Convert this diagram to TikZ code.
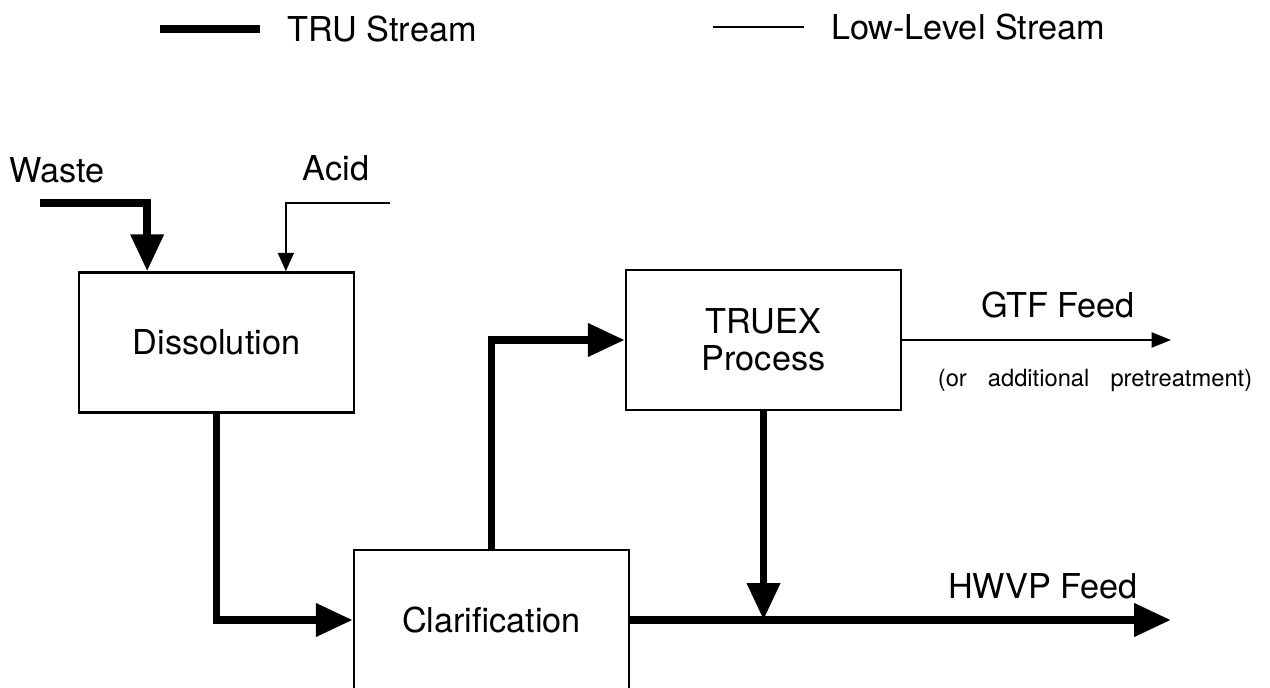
\documentclass[tikz,border=0pt]{standalone}
\usepackage{fontspec}
\setmainfont{TeX Gyre Heros}
\usetikzlibrary{arrows.meta,calc}

\begin{document}
\begin{tikzpicture}[x=0.02cm,y=-0.02cm,font=\fontsize{19.5}{21}\selectfont,
    unit/.style={draw,line width=1.4pt,minimum width=5.5cm,minimum height=2.8cm,align=center},
    tru/.style={line width=4.5pt,-{Triangle[width=18pt,length=21pt]}},
    low/.style={line width=1.3pt,-{Triangle[width=9pt,length=10.5pt]}}]
            \useasboundingbox (0,0) rectangle (1270,688);
            % key
            \coordinate (trukey) at (160,29);
            \coordinate (lowkey) at (713,27);
            \node (trutext) at (382,29) {TRU Stream};
            \node (lowtext) at (968,27) {Low-Level Stream};
            \draw[tru,-,shorten >=12pt] (trukey)--(trutext.west);
            \draw[low,-,shorten >=12pt] (lowkey)--(lowtext.west);
            % units
            \node[unit] (diss) at (216.5,342.5) {Dissolution};
            \node[unit] (truex) at (763.5,340) {TRUEX\\Process};
            \node[unit] (clar) at (491.5,620) {Clarification};
            % feeds
            \node (waste) at (57,170) {Waste};
            \node (acid) at (336,168) {Acid};
            \coordinate (wastein) at (40,203);
            \coordinate (acidin) at (390,203);
            \draw[tru] (wastein) -| ($(diss.north west)!0.25!(diss.north east)$);
            \draw[low] (acidin) -| ($(diss.north west)!0.75!(diss.north east)$);
            % streams
            \draw[tru] (diss.south) |- (clar.west);
            \draw[tru] (clar.north) |- (truex.west);
            \coordinate (gtf) at (1171,340);
            \coordinate (hwvp) at (1171,620);
            \draw[line width=1.3pt,-{Triangle[width=8.5pt,length=11pt]}] (truex.east)--(gtf);
            \draw[tru] (clar.east)--(hwvp);
            \draw[tru] (truex.south)--(truex.south |- clar.east);
            \node (gtftext) at (1058,305) {GTF Feed};
            \node[font=\fontsize{13.5}{15}\selectfont] (gtfnote) at (1095,380) {\spaceskip=12pt plus 1pt\relax (or additional pretreatment)};
            \node (hwvptext) at (1043,586) {HWVP Feed};
        \end{tikzpicture}
\end{document}
